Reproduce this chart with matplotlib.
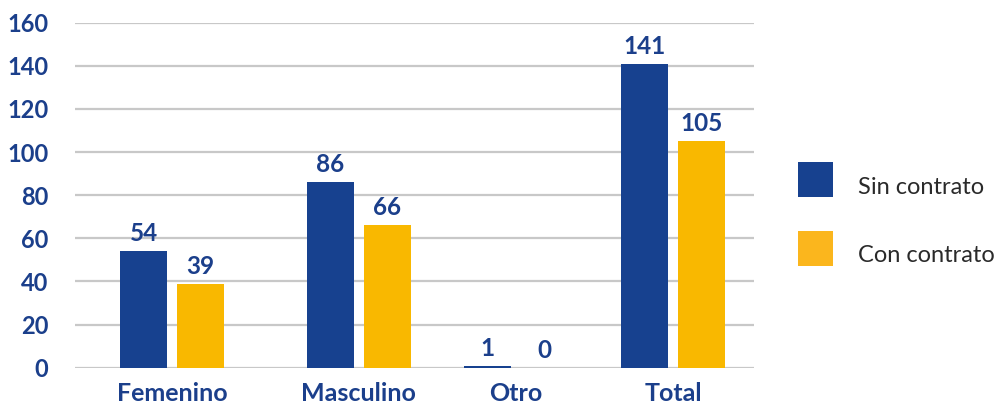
import matplotlib
matplotlib.use("Agg")
import matplotlib.pyplot as plt
from matplotlib.patches import Rectangle

categories = ["Femenino", "Masculino", "Otro", "Total"]
sin_contrato = [54, 86, 1, 141]
con_contrato = [39, 66, 0, 105]
series_names = ["Sin contrato", "Con contrato"]
y_ticks = [0, 20, 40, 60, 80, 100, 120, 140, 160]

# group centres (in axis units, axis spans 0..679)
group_pos = [97, 283.5, 441, 598]
bar_w = 47
off = 28.5

BLUE = "#17418F"
YELLOW = "#F9B800"
YELLOW_LEG = "#FBB61D"
TXT = "#1B3F8B"
GRID = "#C8C8C8"

plt.rcParams["font.family"] = ["Lato", "DejaVu Sans"]

fig = plt.figure(figsize=(10.01, 4.04), dpi=100)
W, H = 1001, 404
ax = fig.add_axes([75 / W, (H - 367.7) / H, (754 - 75) / W, (367.7 - 22.7) / H])

x1 = [p - off for p in group_pos]
x2 = [p + off for p in group_pos]
ax.bar(x1, sin_contrato, width=bar_w, color=BLUE, zorder=3)
ax.bar(x2, con_contrato, width=bar_w, color=YELLOW, zorder=3)

for xs, vals in ((x1, sin_contrato), (x2, con_contrato)):
    for x, v in zip(xs, vals):
        ax.annotate(str(v), (x, v), xytext=(0, 10), textcoords="offset pixels",
                    ha="center", va="baseline", fontsize=17.5, fontweight="bold",
                    color=TXT, zorder=4)

ax.set_xlim(0, 679)
ax.set_ylim(0, 160)
ax.set_yticks(y_ticks)
ax.set_yticklabels([str(t) for t in y_ticks])
ax.set_xticks(group_pos)
ax.set_xticklabels(categories)
for lab in ax.get_yticklabels():
    lab.set_fontweight("bold")
    lab.set_fontsize(17)
    lab.set_color(TXT)
for lab in ax.get_xticklabels():
    lab.set_fontweight("bold")
    lab.set_fontsize(18)
    lab.set_color(TXT)
ax.tick_params(axis="both", length=0)
ax.tick_params(axis="y", pad=19)
ax.tick_params(axis="x", pad=10.5)
ax.yaxis.grid(True, color=GRID, linewidth=1.6, zorder=0)
ax.set_axisbelow(True)
for s in ax.spines.values():
    s.set_visible(False)

# legend drawn manually in figure pixel coordinates
leg_colors = [BLUE, YELLOW_LEG]
sq_top = [162, 231]
txt_y = [187, 255]
for name, col, top, ty in zip(series_names, leg_colors, sq_top, txt_y):
    fig.patches.append(Rectangle((798 / W, 1 - (top + 35) / H), 35 / W, 35 / H,
                                 transform=fig.transFigure, facecolor=col,
                                 edgecolor="none"))
    fig.text(858 / W, 1 - ty / H, name, ha="left", va="center",
             fontsize=17, color="#2a2a2a", family=["Lato", "DejaVu Sans"],
             fontweight="normal")

fig.savefig("out.png", dpi=100)
